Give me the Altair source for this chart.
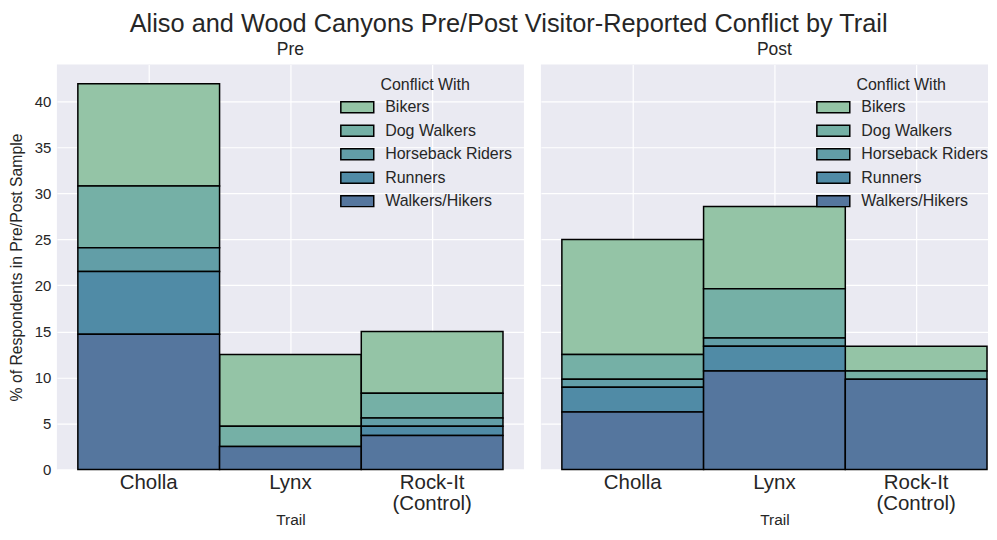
import altair as alt
import pandas as pd

trails = ["Cholla", "Lynx", "Rock-It (Control)"]
conflicts = ["Bikers", "Dog Walkers", "Horseback Riders", "Runners", "Walkers/Hikers"]
stack_rank = [4, 3, 2, 1, 0]
colors = ["#94c4a6", "#75b0a6", "#629ea7", "#508ba6", "#55769e"]

pre_values = {
    "Bikers": [11.1, 7.8, 6.7],
    "Dog Walkers": [6.7, 2.2, 2.7],
    "Horseback Riders": [2.6, 0.0, 0.9],
    "Runners": [6.8, 0.0, 1.0],
    "Walkers/Hikers": [14.7, 2.5, 3.7],
}
post_values = {
    "Bikers": [12.5, 8.93, 2.68],
    "Dog Walkers": [2.68, 5.36, 0.89],
    "Horseback Riders": [0.89, 0.89, 0.0],
    "Runners": [2.68, 2.68, 0.0],
    "Walkers/Hikers": [6.25, 10.71, 9.82],
}

rows = []
for period, vals in [("Pre", pre_values), ("Post", post_values)]:
    for c, r in zip(conflicts, stack_rank):
        for t, v in zip(trails, vals[c]):
            rows.append({"period": period, "Trail": t, "conflict": c, "rank": r, "pct": v})
df = pd.DataFrame(rows)

FONT = "Liberation Sans"
TXT = "#262626"
label_expr = "datum.label == 'Rock-It (Control)' ? ['Rock-It', '(Control)'] : datum.label"
sym_path = "M-1,-1H5V1H-1Z"
yticks = [0, 5, 10, 15, 20, 25, 30, 35, 40]


def panel(period, width, pad_outer, align, show_y, title_dx, legend_x):
    if show_y:
        yaxis = alt.Axis(values=yticks, title="% of Respondents in Pre/Post Sample",
                         labelFontSize=15, titleFontSize=15.8, titlePadding=10,
                         labelPadding=6)
    else:
        yaxis = alt.Axis(values=yticks, labels=False, title=None)
    return (
        alt.Chart(df)
        .transform_filter(f"datum.period == '{period}' && datum.pct > 0")
        .mark_bar(stroke="black", strokeWidth=1.5, opacity=1)
        .encode(
            x=alt.X("Trail:N", sort=trails,
                    scale=alt.Scale(paddingInner=0, paddingOuter=pad_outer, align=align),
                    axis=alt.Axis(title="Trail", labelAngle=0, labelFontSize=20.5,
                                  labelExpr=label_expr, labelLineHeight=21,
                                  labelPadding=3, titleFontSize=15.5, titlePadding=-1,
                                  titleX=234, bandPosition=0.5)),
            y=alt.Y("pct:Q", stack="zero",
                    scale=alt.Scale(domain=[0, 44], nice=False),
                    axis=yaxis),
            color=alt.Color("conflict:N",
                            scale=alt.Scale(domain=conflicts, range=colors),
                            legend=alt.Legend(title="Conflict With", orient="none",
                                              legendX=legend_x, legendY=13,
                                              titleFontSize=16, labelFontSize=16,
                                              titleFontWeight="normal", titleAnchor="middle",
                                              symbolType=sym_path, symbolSize=121,
                                              symbolStrokeColor="black", symbolStrokeWidth=1.5,
                                              symbolOpacity=1, labelOffset=31, rowPadding=5.5,
                                              titlePadding=6, padding=0)),
            order=alt.Order("rank:Q", sort="ascending"),
        )
        .properties(width=width, height=406,
                    title=alt.Title(period, fontSize=17.5, fontWeight="normal", color=TXT,
                                    offset=6, dx=title_dx))
    )


pre = panel("Pre", 468, 21 / 142, 0.5, True, 0, 282)
post = panel("Post", 448, 11 / 142, 21 / 22, False, 10, 274)

chart = (
    alt.hconcat(pre, post, spacing=17)
    .resolve_scale(color="independent", y="independent", x="independent")
    .resolve_legend(color="independent")
    .properties(
        title=alt.Title("Aliso and Wood Canyons Pre/Post Visitor-Reported Conflict by Trail",
                        fontSize=25.4, fontWeight="normal", color=TXT, anchor="middle",
                        offset=4, dx=10),
        padding={"left": 0, "top": 3, "right": 0, "bottom": 0},
    )
    .configure(font=FONT)
    .configure_view(fill="#EAEAF2", stroke=None)
    .configure_axis(grid=True, gridColor="white", gridWidth=1.2, domain=False, ticks=False,
                    labelColor=TXT, titleColor=TXT, titleFontWeight="normal", labelFont=FONT,
                    titleFont=FONT)
    .configure_legend(labelColor=TXT, titleColor=TXT, labelFont=FONT, titleFont=FONT)
    .configure_title(font=FONT)
)

chart.save("out.html", embed_options={"renderer": "svg", "actions": False})
